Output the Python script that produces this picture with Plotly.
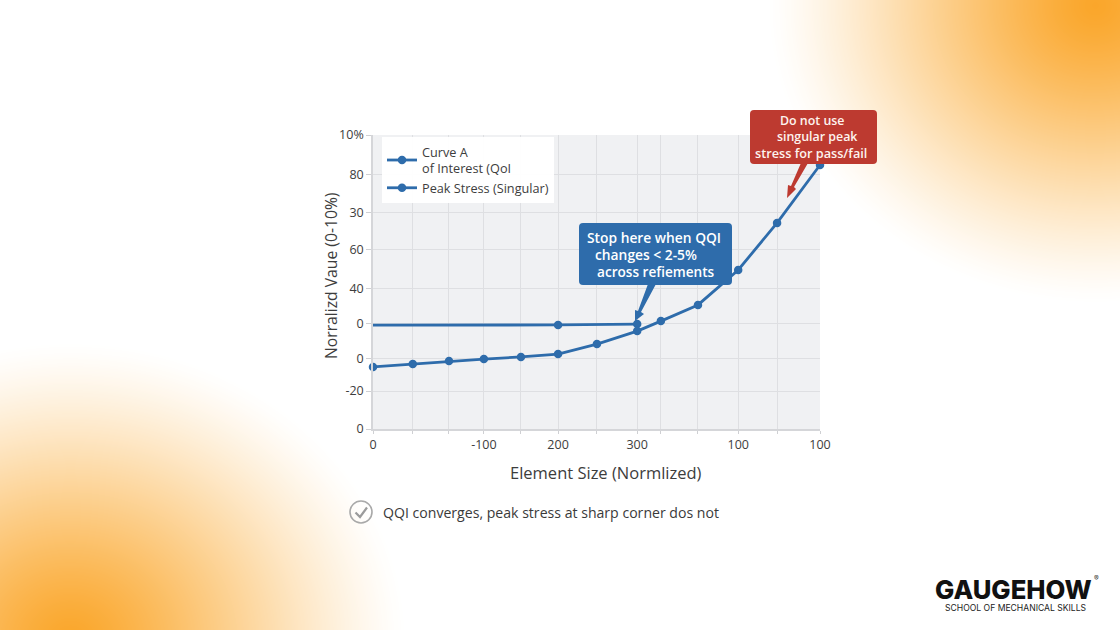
import base64, struct, zlib
import numpy as np
import plotly.graph_objects as go

# ---------- chart data ----------
x_grid = [0, 8.9, 17, 24.8, 33.1, 41.4, 50.1, 59.1, 64.4, 72.7, 81.7, 90.4, 100]
x_labels = ["0", "", "", "-100", "", "200", "", "300", "", "", "100", "", "100"]
y_grid = [0, 12.9, 24.1, 36, 47.9, 60.9, 73.5, 86.4, 100]
y_labels = ["0", "-20", "0", "0", "40", "60", "30", "80", "10%"]

curve_a_x = [41.4, 59.1]
curve_a_y = [35.4, 35.7]
curve_a_lead_x = [0, 41.4]
curve_a_lead_y = [35.3, 35.4]
peak_x = [0, 8.9, 17, 24.8, 33.1, 41.4, 50.1, 59.1, 64.4, 72.7, 81.7, 90.4, 100]
peak_y = [21.1, 22.1, 23.1, 23.8, 24.5, 25.5, 28.9, 33.3, 36.7, 42.2, 54.1, 70.1, 89.8]

W, H = 1120, 630
BLUE = "#2e6cab"
RED = "#bd3a30"
INK = "#3d3d3d"
FONT = "Open Sans"


def px(x):
    return x / W


def py(y):
    return 1 - y / H


# ---------- soft orange corner glows (page decoration) ----------
def glow_png():
    yy, xx = np.mgrid[0:H, 0:W]
    alpha = np.zeros((H, W))
    for cx, cy, rx, ry in [(1095, 5, 330, 300), (70, 640, 338, 300)]:
        t = np.sqrt(((xx - cx) / rx) ** 2 + ((yy - cy) / ry) ** 2)
        a = np.clip(1 - np.clip(t, 0, 1) ** 1.3, 0, 1) ** 1.35
        alpha = np.maximum(alpha, a)
    rgba = np.zeros((H, W, 4), dtype=np.uint8)
    rgba[..., 0] = 250
    rgba[..., 1] = 166
    rgba[..., 2] = 42
    rgba[..., 3] = (alpha * 255).astype(np.uint8)
    raw = b"".join(b"\x00" + rgba[r].tobytes() for r in range(H))

    def chunk(tag, data):
        body = tag + data
        return struct.pack(">I", len(data)) + body + struct.pack(">I", zlib.crc32(body))

    png = b"\x89PNG\r\n\x1a\n" + chunk(b"IHDR", struct.pack(">IIBBBBB", W, H, 8, 6, 0, 0, 0))
    png += chunk(b"IDAT", zlib.compress(raw, 6)) + chunk(b"IEND", b"")
    return "data:image/png;base64," + base64.b64encode(png).decode()


def round_box(x0, y0, x1, y1, r=4):
    return (
        f"M{px(x0 + r)},{py(y0)} L{px(x1 - r)},{py(y0)} Q{px(x1)},{py(y0)} {px(x1)},{py(y0 + r)} "
        f"L{px(x1)},{py(y1 - r)} Q{px(x1)},{py(y1)} {px(x1 - r)},{py(y1)} "
        f"L{px(x0 + r)},{py(y1)} Q{px(x0)},{py(y1)} {px(x0)},{py(y1 - r)} "
        f"L{px(x0)},{py(y0 + r)} Q{px(x0)},{py(y0)} {px(x0 + r)},{py(y0)} Z"
    )


def poly(points):
    return "M" + " L".join(f"{px(a)},{py(b)}" for a, b in points) + " Z"


def fill_shape(path, color):
    return dict(type="path", xref="paper", yref="paper", path=path,
                fillcolor=color, line=dict(width=0), layer="above")


shapes = [
    fill_shape(round_box(579, 223, 732, 285), BLUE),
    fill_shape(poly([(648, 284), (656, 284), (641, 312), (644, 314), (635, 321), (635, 310), (638, 311)]), BLUE),
    fill_shape(round_box(750, 110, 877, 164), RED),
    fill_shape(poly([(801, 163), (808, 163), (794, 187), (796, 189), (787, 198), (788, 185), (791, 186)]), RED),
    dict(type="circle", xref="paper", yref="paper", x0=px(350), x1=px(372), y0=py(523), y1=py(501),
         line=dict(color="#a9a9a9", width=1.6), fillcolor="rgba(255,255,255,0)"),
    dict(type="path", xref="paper", yref="paper", path=(
        f"M{px(355.5)},{py(512.5)} L{px(360)},{py(517)} L{px(367)},{py(507.5)}"),
         line=dict(color="#9b9b9b", width=2.2)),
]


def text(x, y, s, size, color=INK, anchor="left", weight=400, family=FONT, angle=0):
    return dict(xref="paper", yref="paper", x=px(x), y=py(y), text=s, showarrow=False,
                xanchor=anchor, yanchor="middle", textangle=angle,
                font=dict(size=size, color=color, family=family, weight=weight))


annotations = [
    text(585, 237, "Stop here when QQI", 13.8, "#ffffff", weight=600),
    text(593, 254, "changes &lt; 2-5%", 13.8, "#ffffff", weight=600),
    text(595, 271, "across refiements", 13.6, "#ffffff", weight=600),
    text(778, 120.5, "Do not use", 12.4, "#fdf3ee", weight=600),
    text(775, 136.3, "singular peak", 12.4, "#fdf3ee", weight=600),
    text(753, 152.7, "stress for pass/fail", 12.7, "#fdf3ee", weight=600),
    text(381, 512, "QQI converges, peak stress at sharp corner dos not", 14.1, "#3a3a3a"),
    text(933, 589, "GAUGEHOW", 25.7, "#111111", weight=800, family="Inter"),
    text(1092, 578, "®", 7, "#333333", family="Inter"),
    text(943, 607.5, "SCHOOL OF MECHANICAL SKILLS", 8.6, "#222222", weight=400, family="Inter"),
    text(606, 472, "Element Size (Normlized)", 16.5, anchor="center"),
    text(331, 276, "Norralizd Vaue (0-10%)", 15.7, anchor="center", angle=-90),
]

marker = dict(color=BLUE, size=8.5)
line = dict(color=BLUE, width=2.8)
fig = go.Figure()
fig.add_trace(go.Scatter(x=curve_a_lead_x, y=curve_a_lead_y, mode="lines", line=line,
                         showlegend=False, hoverinfo="skip", cliponaxis=False))
fig.add_trace(go.Scatter(x=curve_a_x, y=curve_a_y, mode="lines+markers", line=line, marker=marker,
                         name="Curve A<br>of Interest (QoI", cliponaxis=False))
fig.add_trace(go.Scatter(x=peak_x, y=peak_y, mode="lines+markers", line=line, marker=marker,
                         name="Peak Stress (Singular)", cliponaxis=False))

axis_common = dict(showgrid=True, gridcolor="#dedfe2", gridwidth=1.2, zeroline=False,
                   showline=True, linecolor="#d5d6d9", linewidth=1.5, ticks="outside",
                   tickcolor="#cfd0d3", tickfont=dict(size=12.5, color=INK, family=FONT),
                   fixedrange=True)
fig.update_layout(
    width=W, height=H, margin=dict(l=0, r=0, t=0, b=0), autosize=False,
    paper_bgcolor="#ffffff", plot_bgcolor="#f0f1f3",
    font=dict(family=FONT, color=INK),
    xaxis=dict(domain=[px(373), px(820)], range=[0, 100], tickmode="array", tickvals=x_grid,
               ticktext=x_labels, ticklen=3, automargin=False, mirror=False, **axis_common),
    yaxis=dict(domain=[py(429), py(135)], range=[0, 100], tickmode="array", tickvals=y_grid,
               ticktext=y_labels, ticklen=5, automargin=False, **axis_common),
    legend=dict(x=px(382), y=py(137), xanchor="left", yanchor="top", xref="paper", yref="paper",
                bgcolor="rgba(255,255,255,0.95)", borderwidth=0, tracegroupgap=0,
                font=dict(size=12.7, color=INK, family=FONT), itemwidth=30),
    shapes=shapes, annotations=annotations,
    images=[dict(source=glow_png(), xref="paper", yref="paper", x=0, y=1, sizex=1, sizey=1,
                 sizing="stretch", xanchor="left", yanchor="top", layer="below")],
)
fig.write_html("out.html", config={"displayModeBar": False},
               post_script="document.body.style.margin='0';document.documentElement.style.overflow='hidden';")
